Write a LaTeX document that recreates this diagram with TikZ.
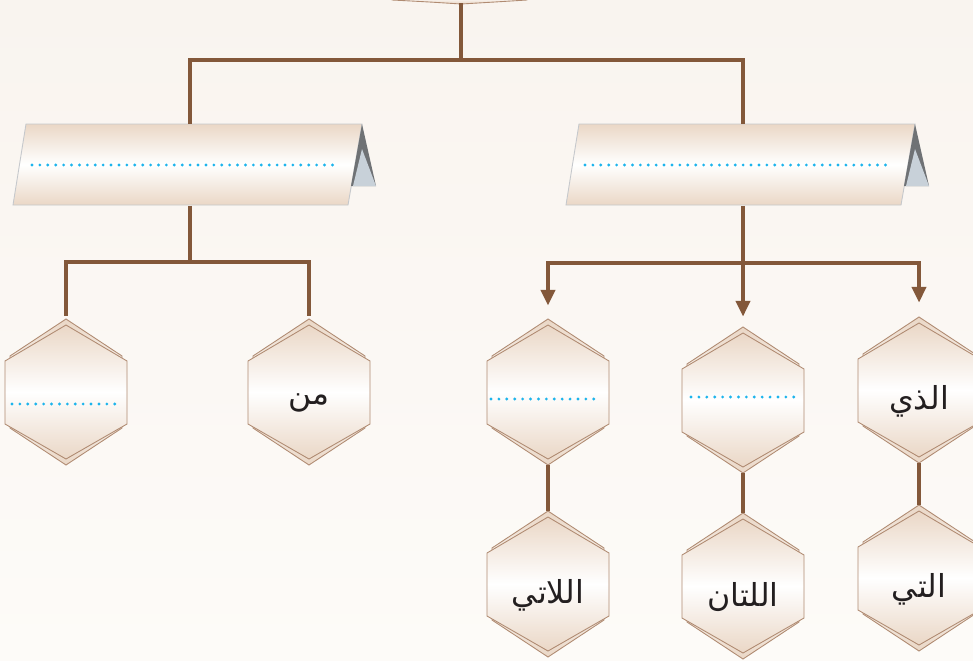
\documentclass[tikz,border=0pt]{standalone}
\usepackage{fontspec}
\usepackage{tikz}
\usepackage{xcolor}
\usetikzlibrary{arrows.meta}
\TeXXeTstate=1
\newfontfamily\arabicfont[Script=Arabic]{DejaVu Sans}
\definecolor{linkbrown}{HTML}{83583A}
\definecolor{hexedge}{HTML}{B08B72}
\definecolor{hextan}{HTML}{EAD7C6}
\definecolor{banedge}{HTML}{C5C8CC}
\definecolor{foldlight}{HTML}{C8D1D9}
\definecolor{folddark}{HTML}{6F7275}
\definecolor{dotblue}{HTML}{1CB4EC}
\definecolor{bgtop}{HTML}{F9F4EF}
\definecolor{bgbot}{HTML}{FDFBF8}
\definecolor{ink}{HTML}{231F20}

\begin{document}
\begin{tikzpicture}[x=0.02cm,y=-0.02cm,
  link/.style={draw=linkbrown,line width=2.3pt},
  tip/.style={-{Triangle[length=9pt,width=8pt]}},
  hexfill/.style={draw=hexedge,line width=0.5pt,top color=hextan,bottom color=hextan,middle color=white},
  banfill/.style={draw=banedge,line width=0.5pt,top color=hextan,bottom color=hextan,middle color=white},
  hexnode/.style={minimum width=2.44cm,minimum height=2.92cm,inner sep=0pt},
  hextext/.style={text=ink,font=\arabicfont\fontsize{18}{20}\selectfont,yshift=-0.22cm},
  bannode/.style={minimum width=6.7cm,minimum height=1.62cm,inner sep=0pt},
  dots/.style={draw=dotblue,line width=1.8pt,line cap=round,dash pattern=on 0pt off 4.5pt}]
  \shade[top color=bgtop,bottom color=bgbot] (0,0) rectangle (973,660);
  \useasboundingbox (0,0) rectangle (973,660);
  % edge of the box above
  \path[hexfill] (392,-10) -- (527,-10) -- (527,0) .. controls (495,2) .. (461,4) .. controls (430,2) .. (392,0) -- cycle;
  \coordinate (top) at (461,3);
  % banners
  \foreach \n/\x in {lb/190,rb/743}{
    \begin{scope}[shift={(\x,165)}]
      \path[banfill] (-164,-41) -- (172,-41) -- (158,40) -- (-177,40) -- cycle;
      \fill[folddark] (172,-41) -- (186,21) -- (161,21) -- cycle;
      \fill[foldlight] (172,-16) -- (186,21) -- (163,21) -- cycle;
      \draw[dots] (-158,0) -- (143,0);
    \end{scope}
    \node[bannode] (\n) at (\x,165) {};
  }
  % hexagons
  \foreach \n/\x/\y/\lab in {l1/66/392/{},l2/309/392/{من},r1/548/392/{},r2/743/400/{},r3/919/390/{الذي},
                             r1b/548/584/{اللاتي},r2b/743/586/{اللتان},r3b/919/578/{التي}}{
    \begin{scope}[shift={(\x,\y)}]
      \path[hexfill] (0,-73) -- (56,-36) -- (56,36) -- (0,73) -- (-56,36) -- (-56,-36) -- cycle;
      \path[hexfill] (0,-67) -- (61,-31) -- (61,32) -- (0,67) -- (-61,32) -- (-61,-31) -- cycle;
    \end{scope}
    \node[hexnode,label={[hextext]center:\beginR\lab\endR}] (\n) at (\x,\y) {};
  }
  \draw[dots] ([shift={(-54,12)}]l1.center) -- ([shift={(53,12)}]l1.center);
  \draw[dots] ([shift={(-57,7)}]r1.center) -- ([shift={(50,7)}]r1.center);
  \draw[dots] ([shift={(-52,-3)}]r2.center) -- ([shift={(56,-3)}]r2.center);
  % connectors
  \coordinate (tj) at (461,60);
  \coordinate (lj) at (190,262);
  \coordinate (rj) at (743,263);
  \draw[link] (top) -- (tj);
  \draw[link] (lb.north) |- (tj) -| (rb.north);
  \draw[link] (lb.south) -- (lj);
  \draw[link,shorten <=0.06cm,shorten >=0.06cm] (l1.north) |- (lj) -| (l2.north);
  \draw[link] (rb.south) -- (rj);
  \draw[link,tip,shorten >=0.26cm] (rj) -| (r1.north);
  \draw[link,tip,shorten >=0.2cm] (rj) -- (r2.north);
  \draw[link,tip,shorten >=0.28cm] (rj) -| (r3.north);
  \draw[link] (r1.south) -- (r1b.north);
  \draw[link] (r2.south) -- (r2b.north);
  \draw[link] (r3.south) -- (r3b.north);
\end{tikzpicture}
\end{document}
